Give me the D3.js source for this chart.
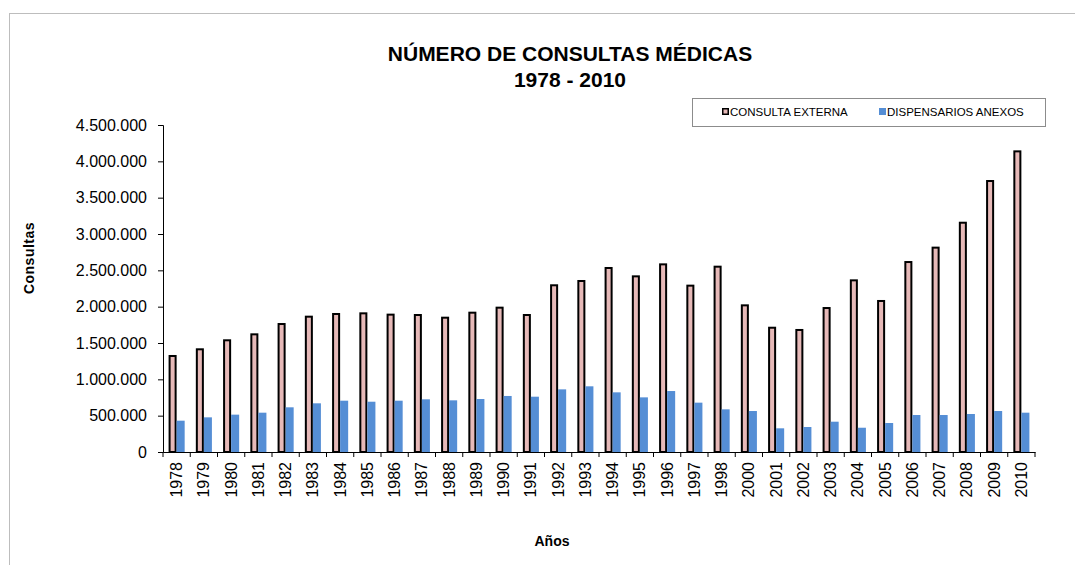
<!DOCTYPE html>
<html>
<head>
<meta charset="utf-8">
<script src="https://cdn.jsdelivr.net/npm/d3@7"></script>
<style>
  body { margin: 0; background: #fff; }
  text { font-family: "Liberation Sans", Arial, sans-serif; }
</style>
</head>
<body>
<svg id="chart" width="1075" height="565"></svg>
<script>
// datos
var years = ["1978","1979","1980","1981","1982","1983","1984","1985","1986","1987","1988",
  "1989","1990","1991","1992","1993","1994","1995","1996","1997","1998","2000",
  "2001","2002","2003","2004","2005","2006","2007","2008","2009","2010"];

var consultaExterna = [1335000,1427000,1551000,1633000,1775000,1876000,1913000,1922000,1904000,1899000,1862000,
  1931000,2000000,1899000,2308000,2367000,2546000,2431000,2596000,2303000,2564000,2032000,
  1724000,1693000,1995000,2376000,2092000,2628000,2826000,3169000,3743000,4151000];

var dispensarios = [431000,477000,514000,541000,615000,670000,706000,692000,706000,725000,711000,
  729000,771000,761000,862000,904000,821000,752000,839000,679000,587000,564000,
  326000,344000,417000,334000,399000,509000,509000,523000,564000,541000];

var yTicks = [0,500000,1000000,1500000,2000000,2500000,3000000,3500000,4000000,4500000];
var seriesNames = ["CONSULTA EXTERNA", "DISPENSARIOS ANEXOS"];

var data = years.map(function(y, i) {
  return { year: y, values: [consultaExterna[i], dispensarios[i]] };
});

var svg = d3.select("#chart");

// marco exterior
svg.append("rect")
  .attr("x", 9.5).attr("y", 13.5)
  .attr("width", 1080).attr("height", 600)
  .attr("fill", "none")
  .attr("stroke", "#bdbdbd");

var margin = {top: 125, left: 163, right: 1035, bottom: 452};

var es = d3.formatLocale({decimal: ",", thousands: ".", grouping: [3], currency: ["", ""]});
var fmt = es.format(",.0f");

var x0 = d3.scaleBand().domain(years).range([margin.left, margin.right])
  .paddingInner(0.41).paddingOuter(0.205);
var x1 = d3.scaleBand().domain([0, 1]).range([0, x0.bandwidth()]);
var y = d3.scaleLinear().domain([0, 4500000]).range([margin.bottom, margin.top]);

var colors = ["#e6b9b8", "#558ed5"];

// barras
var groups = svg.append("g").selectAll("g")
  .data(data)
  .enter().append("g")
  .attr("transform", function(d) { return "translate(" + x0(d.year) + ",0)"; });

groups.append("rect")
  .attr("x", x1(0) + 1)
  .attr("width", x1.bandwidth() - 2)
  .attr("y", function(d) { return y(d.values[0]) + 1; })
  .attr("height", function(d) { return y(0) - y(d.values[0]) - 1; })
  .attr("fill", colors[0])
  .attr("stroke", "#000")
  .attr("stroke-width", 2);

groups.append("rect")
  .attr("x", x1(1))
  .attr("width", x1.bandwidth())
  .attr("y", function(d) { return y(d.values[1]); })
  .attr("height", function(d) { return y(0) - y(d.values[1]); })
  .attr("fill", colors[1]);

// eje Y
var yAxis = svg.append("g")
  .attr("transform", "translate(" + margin.left + ",0)")
  .call(d3.axisLeft(y).tickValues(yTicks).tickFormat(fmt).tickSize(5).tickPadding(11));
yAxis.select(".domain").attr("stroke", "#000");
yAxis.selectAll("text").style("font-size", "16px").attr("fill", "#000");

// eje X
var xAxis = svg.append("g")
  .attr("transform", "translate(0," + margin.bottom + ")")
  .call(d3.axisBottom(x0).tickSize(0).tickSizeOuter(0));
xAxis.select(".domain").attr("stroke", "#000");
xAxis.selectAll("text")
  .style("font-size", "16px")
  .attr("fill", "#000")
  .attr("transform", "rotate(-90)")
  .attr("text-anchor", "end")
  .attr("x", -10)
  .attr("y", 0)
  .attr("dy", "0.35em");

// marcas entre categorias
svg.append("g").selectAll("line")
  .data(d3.range(years.length + 1))
  .enter().append("line")
  .attr("x1", function(i) { return margin.left + i * x0.step(); })
  .attr("x2", function(i) { return margin.left + i * x0.step(); })
  .attr("y1", margin.bottom)
  .attr("y2", margin.bottom + 5)
  .attr("stroke", "#000");

// titulos
svg.append("text").attr("x", 570).attr("y", 61)
  .attr("text-anchor", "middle").style("font-size", "21px").style("font-weight", "bold")
  .text("NÚMERO DE CONSULTAS MÉDICAS");
svg.append("text").attr("x", 570).attr("y", 87)
  .attr("text-anchor", "middle").style("font-size", "21px").style("font-weight", "bold")
  .text("1978 - 2010");

svg.append("text")
  .attr("transform", "translate(34,258) rotate(-90)")
  .attr("text-anchor", "middle").style("font-size", "14px").style("font-weight", "bold")
  .style("letter-spacing", "0.5px")
  .text("Consultas");

svg.append("text").attr("x", 552).attr("y", 546)
  .attr("text-anchor", "middle").style("font-size", "14px").style("font-weight", "bold")
  .text("Años");

// leyenda
var legend = svg.append("g");
legend.append("rect")
  .attr("x", 692.5).attr("y", 98.5).attr("width", 353).attr("height", 28)
  .attr("fill", "#fff").attr("stroke", "#8c8c8c");

var legX = [722, 879];
seriesNames.forEach(function(name, i) {
  var g = legend.append("g").attr("transform", "translate(" + legX[i] + ",108)");
  g.append("rect")
    .attr("x", i === 0 ? 0.75 : 0).attr("y", i === 0 ? 0.75 : 0)
    .attr("width", i === 0 ? 5.5 : 7).attr("height", i === 0 ? 5.5 : 7)
    .attr("fill", colors[i])
    .attr("stroke", i === 0 ? "#000" : "none")
    .attr("stroke-width", 1.5);
  g.append("text").attr("x", 8).attr("y", 8)
    .style("font-size", "11.5px").attr("fill", "#000")
    .text(name);
});
</script>
</body>
</html>
